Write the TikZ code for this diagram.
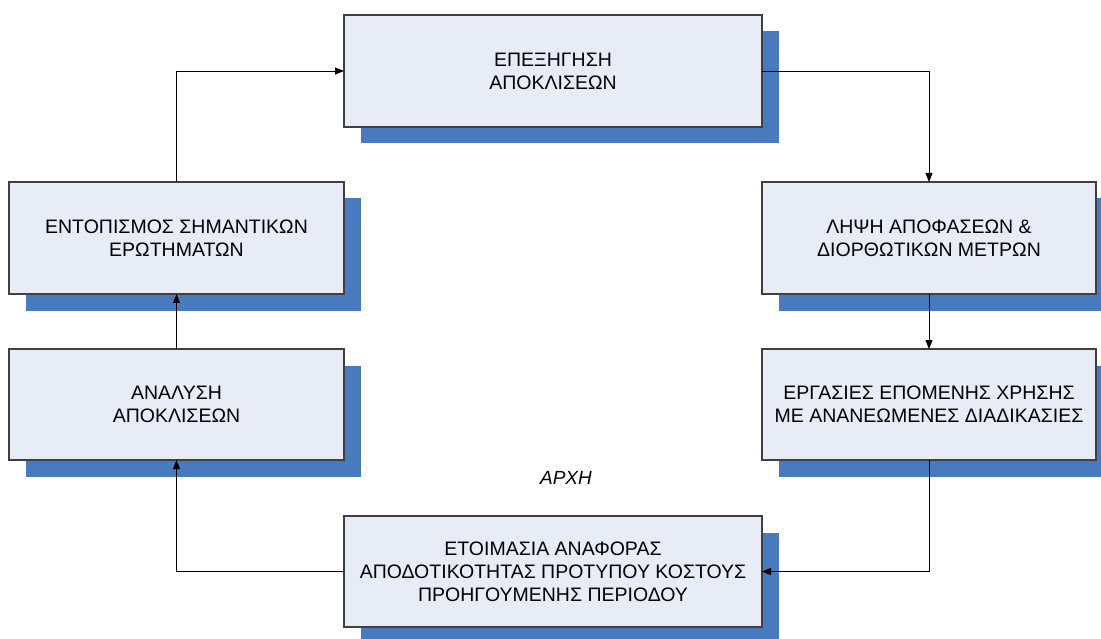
\documentclass[tikz,border=0pt]{standalone}
\usepackage{fontspec}
\setmainfont{Liberation Sans}
\usetikzlibrary{arrows.meta,shadows}
\definecolor{boxfill}{RGB}{231,236,247}
\definecolor{boxshadow}{RGB}{72,122,192}
\definecolor{boxline}{RGB}{64,64,64}
\tikzset{
	stage/.style={draw=boxline, line width=1.2pt, fill=boxfill, align=center, outer sep=0pt,
		font=\fontsize{19.5}{23}\selectfont,
		general shadow={fill=boxshadow, shadow xshift=16.5pt, shadow yshift=-16.5pt}},
	flow/.style={line width=0.9pt, -{Triangle[length=9pt,width=7pt]}}
}

\begin{document}
\begin{tikzpicture}[x=1pt, y=-1pt]
		%%%%% START %%%%%
		\useasboundingbox (0, 0) rectangle (1101, 639);
		
		\node[stage, minimum width=418pt, minimum height=112pt] (explain) at (553, 71) {ΕΠΕΞΗΓΗΣΗ\\ΑΠΟΚΛΙΣΕΩΝ};
		\node[stage, minimum width=334pt, minimum height=112pt] (decide) at (929, 238) {ΛΗΨΗ ΑΠΟΦΑΣΕΩΝ \&\\ΔΙΟΡΘΩΤΙΚΩΝ ΜΕΤΡΩΝ};
		\node[stage, minimum width=334pt, minimum height=111pt] (work) at (929, 404.5) {ΕΡΓΑΣΙΕΣ ΕΠΟΜΕΝΗΣ ΧΡΗΣΗΣ\\ΜΕ ΑΝΑΝΕΩΜΕΝΕΣ ΔΙΑΔΙΚΑΣΙΕΣ};
		\node[stage, minimum width=418pt, minimum height=111pt] (report) at (553, 571.5) {ΕΤΟΙΜΑΣΙΑ ΑΝΑΦΟΡΑΣ\\ΑΠΟΔΟΤΙΚΟΤΗΤΑΣ ΠΡΟΤΥΠΟΥ ΚΟΣΤΟΥΣ\\ΠΡΟΗΓΟΥΜΕΝΗΣ ΠΕΡΙΟΔΟΥ};
		\node[stage, minimum width=335pt, minimum height=111pt] (analyse) at (176.5, 404.5) {ΑΝΑΛΥΣΗ\\ΑΠΟΚΛΙΣΕΩΝ};
		\node[stage, minimum width=335pt, minimum height=112pt] (locate) at (176.5, 238) {ΕΝΤΟΠΙΣΜΟΣ ΣΗΜΑΝΤΙΚΩΝ\\ΕΡΩΤΗΜΑΤΩΝ};
		
		\node[font=\fontsize{19}{23}\selectfont\itshape] (start) at (566, 478) {ΑΡΧΗ};
		
		\draw[flow] (locate.north) |- (explain.west);
		\draw[flow] (explain.east) -| (decide.north);
		\draw[flow] (decide.south) -- (work.north);
		\draw[flow] (work.south) |- (report.east);
		\draw[flow] (report.west) -| (analyse.south);
		\draw[flow] (analyse.north) -- (locate.south);
		%%%%% END %%%%%
\end{tikzpicture}
\end{document}
